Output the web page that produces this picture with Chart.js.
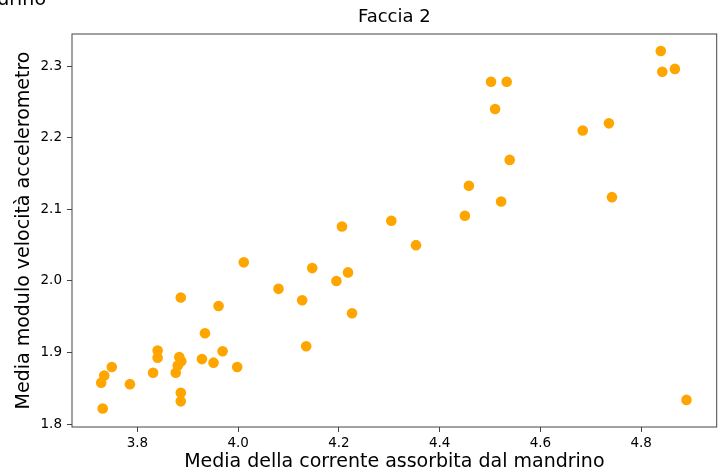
<!DOCTYPE html>
<html>
<head>
<meta charset="utf-8">
<script src="https://cdn.jsdelivr.net/npm/chart.js@4/dist/chart.umd.min.js"></script>
<style>
  html, body { margin: 0; padding: 0; background: #fff; }
  canvas { display: block; }
</style>
</head>
<body>
<canvas id="grafico" width="722" height="474"></canvas>
<script>
// valori (Faccia 2)
const correnteMandrino = [
  4.839, 4.842, 4.867, 4.502, 4.533, 4.510, 4.684, 4.736, 4.539, 4.458,
  4.522, 4.742, 4.450, 4.304, 4.353, 4.890, 4.206, 4.011, 4.147, 4.218,
  4.195, 4.080, 4.127, 4.226, 3.886, 3.961, 3.934, 4.135, 3.969, 3.840,
  3.840, 3.883, 3.887, 3.880, 3.876, 3.928, 3.951, 3.998, 3.831, 3.749,
  3.734, 3.728, 3.785, 3.731, 3.886, 3.886
];
const velocitaAcc = [
  2.321, 2.292, 2.296, 2.278, 2.278, 2.240, 2.210, 2.220, 2.169, 2.133,
  2.111, 2.117, 2.091, 2.084, 2.050, 1.834, 2.076, 2.026, 2.018, 2.012,
  2.000, 1.989, 1.973, 1.955, 1.977, 1.965, 1.927, 1.909, 1.902, 1.903,
  1.893, 1.894, 1.888, 1.882, 1.872, 1.891, 1.886, 1.880, 1.872, 1.880,
  1.868, 1.858, 1.856, 1.822, 1.844, 1.832
];
const tickX = [3.8, 4.0, 4.2, 4.4, 4.6, 4.8];
const tickY = [1.8, 1.9, 2.0, 2.1, 2.2, 2.3];

const FONT = "'DejaVu Sans', sans-serif";
const punti = correnteMandrino.map((x, i) => ({ x: x, y: velocitaAcc[i] }));

// cornice attorno all'area del grafico + testo tagliato in alto
const cornice = {
  id: 'cornice',
  afterDraw(chart) {
    const { ctx, chartArea: a } = chart;
    ctx.save();
    ctx.strokeStyle = '#444';
    ctx.lineWidth = 1;
    ctx.strokeRect(a.left, a.top, a.right - a.left, a.bottom - a.top);
    ctx.fillStyle = '#000';
    ctx.font = "19px " + FONT;
    ctx.textAlign = 'right';
    ctx.textBaseline = 'alphabetic';
    ctx.fillText('mandrino', 46, 5);
    ctx.restore();
  }
};

new Chart(document.getElementById('grafico'), {
  type: 'scatter',
  data: {
    datasets: [{
      data: punti,
      backgroundColor: '#FFA500',
      borderColor: '#FFA500',
      pointRadius: 5.3,
      pointBorderWidth: 0
    }]
  },
  options: {
    responsive: false,
    animation: false,
    layout: { padding: { left: 0, right: 4, top: 0, bottom: 0 } },
    plugins: {
      legend: { display: false },
      tooltip: { enabled: false },
      title: {
        display: true,
        text: 'Faccia 2',
        fullSize: false,
        color: '#000',
        font: { family: FONT, size: 18, weight: 'normal' },
        padding: { top: 7, bottom: 5.4 }
      }
    },
    scales: {
      x: {
        type: 'linear',
        min: 3.67,
        max: 4.95,
        border: { display: false },
        grid: { drawOnChartArea: false, drawTicks: true, tickLength: 5, color: '#444' },
        afterBuildTicks: s => { s.ticks = tickX.map(v => ({ value: v })); },
        afterFit: s => { s.height = 47; },
        ticks: {
          color: '#000',
          padding: 3,
          font: { family: FONT, size: 13.5 },
          callback: v => v.toFixed(1)
        },
        title: {
          display: true,
          text: 'Media della corrente assorbita dal mandrino',
          color: '#000',
          font: { family: FONT, size: 19 },
          padding: { top: 0, bottom: 1 }
        }
      },
      y: {
        type: 'linear',
        min: 1.7962,
        max: 2.3447,
        border: { display: false },
        grid: { drawOnChartArea: false, drawTicks: true, tickLength: 5, color: '#444' },
        afterBuildTicks: s => { s.ticks = tickY.map(v => ({ value: v })); },
        afterFit: s => { s.width = 72; },
        ticks: {
          color: '#000',
          padding: 5,
          font: { family: FONT, size: 13.5 },
          callback: v => v.toFixed(1)
        },
        title: {
          display: true,
          text: 'Media modulo velocità accelerometro',
          color: '#000',
          font: { family: FONT, size: 19 },
          padding: { top: 12.5, bottom: 0 }
        }
      }
    }
  },
  plugins: [cornice]
});
</script>
</body>
</html>
